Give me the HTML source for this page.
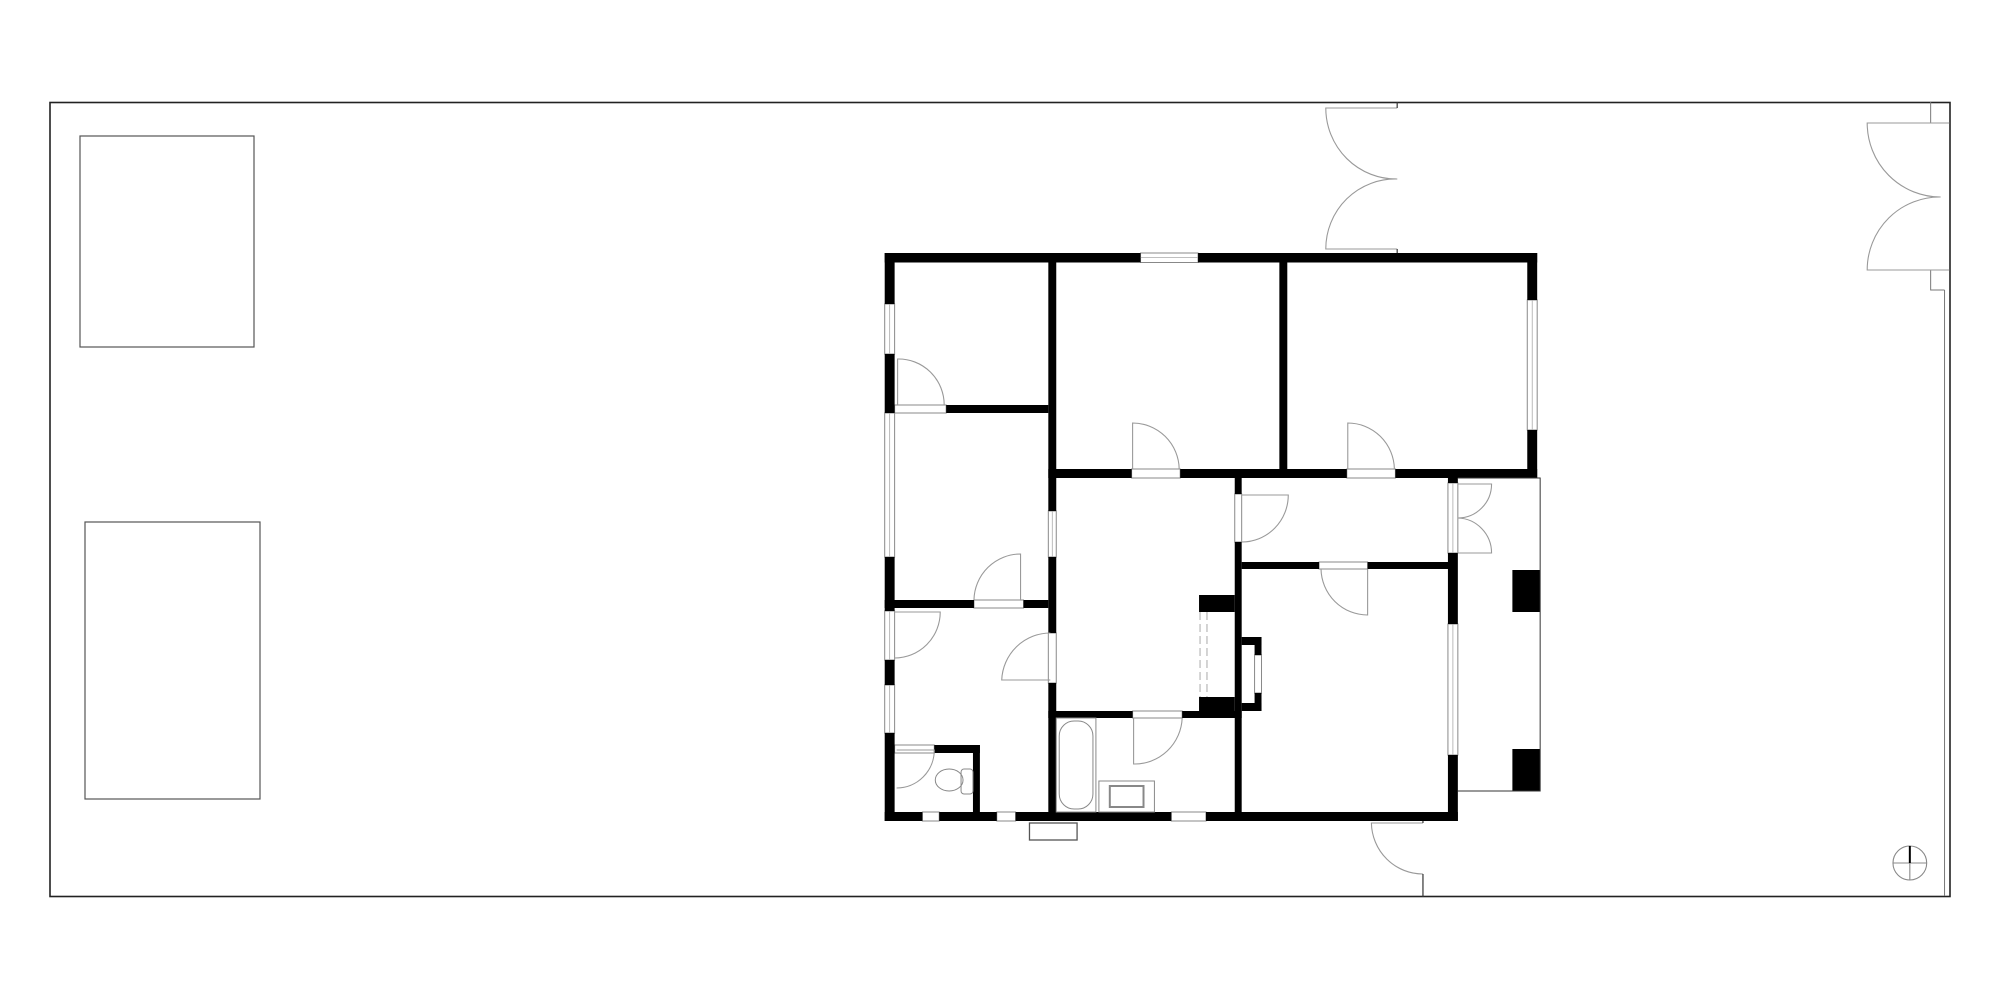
<!DOCTYPE html>
<html><head><meta charset="utf-8"><style>html,body{margin:0;padding:0;background:#fff}svg{display:block}</style></head>
<body>
<svg width="2000" height="1000" viewBox="0 0 2000 1000" xmlns="http://www.w3.org/2000/svg">
<rect x="0" y="0" width="2000" height="1000" fill="#fff"/>
<rect x="50" y="102.5" width="1900" height="794" fill="none" stroke="#222" stroke-width="1.6"/>
<rect x="80" y="136" width="174" height="211" fill="none" stroke="#555" stroke-width="1.2"/>
<rect x="85" y="522" width="175" height="277" fill="none" stroke="#555" stroke-width="1.2"/>

<g transform="translate(1300,0) scale(0.9916,1) translate(-1300,0)">
<line x1="1950" y1="290" x2="1950" y2="896" stroke="#777" stroke-width="1"/>
<polyline points="1936,270 1936,290 1950,290" fill="none" stroke="#777" stroke-width="1"/>
<line x1="1936" y1="102" x2="1936" y2="123" stroke="#777" stroke-width="1"/>
<g fill="none" stroke="#999" stroke-width="1.1">
<path d="M1398,108 H1326 A71,71 0 0 0 1398,179"/>
<path d="M1398,249 H1326 A70,70 0 0 1 1398,179"/>
<path d="M1955,123 H1872 A74,74 0 0 0 1946,197"/>
<path d="M1955,270 H1872 A73,73 0 0 1 1946,197"/>
<path d="M1424,823 H1372 A52,52 0 0 0 1424,874"/>
<circle cx="1915" cy="863" r="17" stroke="#888"/>
<line x1="1898" y1="863" x2="1932" y2="863" stroke="#888"/>
<line x1="1915" y1="863" x2="1915" y2="880" stroke="#888"/>
</g>
<g stroke="#333" stroke-width="1.2">
<line x1="1398" y1="102" x2="1398" y2="108"/>
<line x1="1398" y1="249" x2="1398" y2="253"/>
<line x1="1424" y1="821" x2="1424" y2="823"/>
<line x1="1424" y1="874" x2="1424" y2="897"/>
</g>
<line x1="1915" y1="846" x2="1915" y2="863" stroke="#000" stroke-width="2"/>
</g>

<g transform="translate(850,0) scale(0.9916,1) translate(-850,0)">
<g fill="#fff" stroke="#888" stroke-width="1">
<rect x="1143" y="253" width="58" height="9.5"/>
<rect x="885" y="304" width="10" height="50"/>
<rect x="885" y="413" width="10" height="144"/>
<rect x="885" y="611" width="10" height="49"/>
<rect x="885" y="685" width="10" height="48"/>
<rect x="1533" y="300" width="10" height="130"/>
<rect x="1050" y="511" width="8" height="46"/>
<rect x="1050" y="633" width="8" height="50"/>
<rect x="1453" y="483" width="10" height="70"/>
<rect x="1453" y="624" width="10" height="131"/>
<rect x="923" y="812" width="17" height="9"/>
<rect x="998" y="812" width="19" height="9"/>
<rect x="1174" y="812" width="35" height="9"/>
<rect x="895" y="405" width="52" height="8"/>
<rect x="1134" y="469" width="49" height="9"/>
<rect x="1351" y="469" width="49" height="9"/>
<rect x="1238" y="494" width="7" height="48"/>
<rect x="1323" y="562" width="49" height="7"/>
<rect x="975" y="600" width="50" height="8"/>
<rect x="1135" y="711" width="50" height="7"/>
<rect x="895" y="745" width="40" height="8"/>
<rect x="1258" y="655" width="7" height="38"/>
</g>
<g stroke="#aaa" stroke-width="0.8">
<line x1="1143" y1="257.5" x2="1201" y2="257.5"/>
<line x1="890" y1="304" x2="890" y2="354"/>
<line x1="890" y1="413" x2="890" y2="557"/>
<line x1="890" y1="611" x2="890" y2="660"/>
<line x1="890" y1="685" x2="890" y2="733"/>
<line x1="1538" y1="300" x2="1538" y2="430"/>
<line x1="1054" y1="511" x2="1054" y2="557"/>
<line x1="1458" y1="483" x2="1458" y2="553"/>
<line x1="1458" y1="624" x2="1458" y2="755"/>
</g>
<g stroke="#aaa" stroke-width="1" stroke-dasharray="8,4">
<line x1="1203" y1="612" x2="1203" y2="697"/>
<line x1="1210" y1="612" x2="1210" y2="697"/>
</g>
<g fill="#000">
<rect x="885" y="253" width="258" height="9.5"/>
<rect x="1201" y="253" width="342" height="9.5"/>
<rect x="885" y="253" width="10" height="51"/>
<rect x="885" y="354" width="10" height="59"/>
<rect x="885" y="557" width="10" height="54"/>
<rect x="885" y="660" width="10" height="25"/>
<rect x="885" y="733" width="10" height="88"/>
<rect x="1533" y="253" width="10" height="47"/>
<rect x="1533" y="430" width="10" height="48"/>
<rect x="885" y="812" width="38" height="9"/>
<rect x="940" y="812" width="58" height="9"/>
<rect x="1017" y="812" width="157" height="9"/>
<rect x="1209" y="812" width="254" height="9"/>
<rect x="1453" y="469" width="10" height="14"/>
<rect x="1453" y="553" width="10" height="71"/>
<rect x="1453" y="755" width="10" height="66"/>
<rect x="1050" y="253" width="8" height="258"/>
<rect x="1050" y="557" width="8" height="76"/>
<rect x="1050" y="683" width="8" height="138"/>
<rect x="1283" y="253" width="8" height="217"/>
<rect x="1050" y="469" width="84" height="9"/>
<rect x="1183" y="469" width="168" height="9"/>
<rect x="1400" y="469" width="143" height="9"/>
<rect x="947" y="405" width="103" height="8"/>
<rect x="1238" y="478" width="7" height="16"/>
<rect x="1238" y="542" width="7" height="279"/>
<rect x="1245" y="562" width="78" height="7"/>
<rect x="1372" y="562" width="86" height="7"/>
<rect x="885" y="600" width="90" height="8"/>
<rect x="1025" y="600" width="25" height="8"/>
<rect x="1050" y="711" width="85" height="7"/>
<rect x="1185" y="711" width="60" height="7"/>
<rect x="935" y="745" width="46" height="8"/>
<rect x="974" y="745" width="7" height="76"/>
<rect x="1202" y="595" width="36" height="17"/>
<rect x="1202" y="697" width="36" height="14"/>
<rect x="1245" y="637" width="20" height="8"/>
<rect x="1258" y="637" width="7" height="18"/>
<rect x="1258" y="693" width="7" height="18"/>
<rect x="1245" y="703" width="20" height="8"/>
<rect x="1518" y="570" width="28" height="42"/>
<rect x="1518" y="749" width="28" height="42"/>
</g>
<polyline points="1463,478 1546,478 1546,791 1463,791" fill="none" stroke="#333" stroke-width="1"/>
<g fill="none" stroke="#999" stroke-width="1.1">
<path d="M898,405 V359 A46,46 0 0 1 945,405"/>
<path d="M1135,469 V423 A47,47 0 0 1 1182,469"/>
<path d="M1352,469 V423 A47,47 0 0 1 1399,469"/>
<path d="M1245,495 H1292 A47,47 0 0 1 1245,542"/>
<path d="M1372,569 V615 A47,47 0 0 1 1325,569"/>
<path d="M1022,600 V554 A47,47 0 0 0 975,600"/>
<path d="M895,612 H941 A46,46 0 0 1 895,658"/>
<path d="M1052,680 H1003 A49,49 0 0 1 1052,633"/>
<path d="M1136,718 V764 A48,48 0 0 0 1185,718"/>
<path d="M897,750 H935 A38,38 0 0 1 897,788"/>
<path d="M1463,484 H1497 A34,34 0 0 1 1463,518"/>
<path d="M1463,553 H1497 A35,35 0 0 0 1463,518"/>
</g>
<g fill="none" stroke="#888" stroke-width="1">
<rect x="1058" y="718" width="40" height="94"/>
<rect x="1061" y="721" width="34" height="88" rx="15"/>
<rect x="1101" y="781" width="56" height="31"/>
<rect x="1112" y="786" width="34" height="21" stroke-width="2"/>
<ellipse cx="950" cy="780" rx="14" ry="11"/>
<rect x="962" y="769" width="12" height="25" rx="3"/>
<rect x="1031" y="823" width="48" height="17" stroke="#555" stroke-width="1.3"/>
</g>
</g>
</svg>
</body></html>
